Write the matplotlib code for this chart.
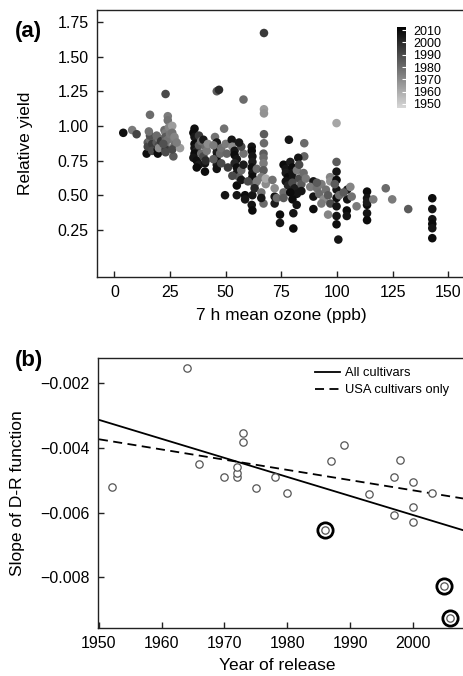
import numpy as np
import matplotlib
matplotlib.use('Agg')
import matplotlib.pyplot as plt
from matplotlib.colors import LinearSegmentedColormap
from matplotlib.ticker import FuncFormatter

plt.rcParams['font.family'] = ['Liberation Sans', 'DejaVu Sans']

# (a) relative yield vs 7 h mean ozone, shaded by cultivar release year
ozone = [
    4, 8, 10,
    16, 14.5, 15, 15, 16, 17, 17, 16, 15.5,
    19.5, 19.5, 19, 20, 20, 19, 20, 21,
    23, 24, 24, 22.5, 23, 23, 23, 23, 23, 23, 24.5, 24, 22, 25,
    26, 26.5, 26, 27, 27, 26, 27, 29.5, 28,
    36, 35.5, 36, 37, 36, 36, 37, 36, 35.5, 37, 38, 38, 38, 39, 39, 37,
    40.7, 40.7, 40, 41, 40, 41.5, 42, 41,
    46, 47, 45.2, 46, 46, 46, 46, 46, 46, 46, 44.5, 47.5, 44.5, 48, 48,
    49.3, 49.7, 50, 50.5, 51,
    52.7, 53, 54, 54, 55, 54, 55, 55, 56, 55, 55, 58.7, 58.7, 57, 57, 58, 58, 58, 57, 56, 53,
    61.7, 61.7, 62, 62, 61.7, 62, 62, 61.7, 62, 62, 63, 64, 64, 63, 60,
    67.2, 67.2, 67.2, 67.2, 67.2, 67, 67, 67, 67, 67, 66, 68, 66, 66, 68,
    71, 72, 72, 72, 74.4, 74.4, 73,
    78.4, 85.3, 85.3, 82.6, 76, 77, 77, 78, 77, 78, 79, 80, 80, 80, 80, 81, 82, 80, 80.4, 80.4,
    81.9, 83, 84, 82, 83, 85, 76, 76, 79, 86, 84,
    89.4, 89.4, 89.4, 88, 91, 92, 93, 94, 95, 96, 96.9, 97, 93, 91, 96, 97,
    99.8, 99.8, 99.8, 99.8, 99.8, 99.8, 99.8, 99.8, 99.8, 100.6, 99, 101,
    104.6, 104.6, 104.4, 104.4, 106.6, 108.8, 103, 106,
    113.5, 113.5, 113.5, 113.5, 113.5, 113.5,
    116.3, 121.9, 124.8, 132,
    142.8, 142.8, 142.8, 142.8, 142.8, 142.8,
]
rel_yield = [
    0.95, 0.97, 0.94,
    1.08, 0.80, 0.88, 0.85, 0.90, 0.87, 0.82, 0.93, 0.96,
    0.83, 0.80, 0.88, 0.91, 0.86, 0.93, 0.84, 0.89,
    1.23, 1.07, 1.04, 0.97, 0.95, 0.92, 0.89, 0.86, 0.83, 0.81, 0.99, 0.90, 0.87, 0.94,
    1.00, 0.78, 0.95, 0.90, 0.86, 0.83, 0.92, 0.84, 0.88,
    0.98, 0.95, 0.92, 0.90, 0.87, 0.84, 0.82, 0.80, 0.77, 0.75, 0.72, 0.86, 0.93, 0.80, 0.89, 0.70,
    0.73, 0.67, 0.90, 0.85, 0.78, 0.82, 0.87, 0.75,
    1.25, 1.26, 0.92, 0.88, 0.84, 0.81, 0.78, 0.75, 0.72, 0.69, 0.86, 0.80, 0.76, 0.84, 0.73,
    0.98, 0.50, 0.87, 0.80, 0.70,
    0.90, 0.85, 0.82, 0.79, 0.76, 0.73, 0.70, 0.66, 0.63, 0.57, 0.50, 0.50, 0.47, 0.61, 0.68, 0.72, 1.19, 0.80, 0.85, 0.88, 0.64,
    0.85, 0.82, 0.78, 0.74, 0.70, 0.66, 0.63, 0.43, 0.39, 0.50, 0.58, 0.60, 0.69, 0.55, 0.60,
    1.67, 1.12, 1.09, 0.94, 0.875, 0.80, 0.77, 0.73, 0.68, 0.44, 0.63, 0.58, 0.52, 0.48, 0.62,
    0.61, 0.49, 0.44, 0.55, 0.36, 0.30, 0.48,
    0.90, 0.875, 0.78, 0.77, 0.72, 0.69, 0.66, 0.63, 0.60, 0.57, 0.74, 0.70, 0.66, 0.62, 0.59, 0.55, 0.51, 0.47, 0.37, 0.26,
    0.43, 0.62, 0.58, 0.68, 0.72, 0.66, 0.52, 0.48, 0.52, 0.62, 0.53,
    0.60, 0.49, 0.40, 0.56, 0.55, 0.51, 0.58, 0.47, 0.54, 0.36, 0.63, 0.60, 0.44, 0.59, 0.50, 0.44,
    1.02, 0.74, 0.67, 0.61, 0.54, 0.48, 0.42, 0.35, 0.29, 0.18, 0.58, 0.50,
    0.54, 0.47, 0.39, 0.35, 0.49, 0.42, 0.52, 0.56,
    0.526, 0.478, 0.43, 0.37, 0.32, 0.45,
    0.47, 0.55, 0.47, 0.40,
    0.478, 0.40, 0.327, 0.293, 0.262, 0.19,
]
release_year = [
    2008, 1975, 1992,
    1980, 2008, 1985, 1992, 1980, 1995, 1990, 1988, 1978,
    2009, 2009, 1985, 1975, 1990, 1980, 1970, 1995,
    1990, 1975, 1978, 1980, 1975, 1985, 1980, 1975, 1995, 1990, 1972, 1978, 1988, 1976,
    1965, 1985, 1978, 1975, 1980, 1990, 1972, 1965, 1974,
    2008, 2009, 2006, 2004, 2009, 2006, 2001, 2009, 2006, 2008, 2004, 1985, 1995, 1980, 1978, 2009,
    2006, 2009, 2005, 1980, 1990, 1975, 1970, 2000,
    1985, 2000, 1978, 2006, 2009, 2004, 2006, 2009, 2004, 2007, 1975, 1980, 1985, 1978, 1990,
    1978, 2006, 1975, 1982, 1995,
    2006, 1970, 2006, 2009, 2006, 2001, 2008, 2006, 1985, 2009, 2006, 2009, 2006, 2006, 1980, 2004, 1980, 1978, 1990, 2005, 1990,
    2006, 2009, 2006, 2004, 2008, 2006, 2009, 2006, 2009, 2006, 1985, 1975, 1980, 2001, 1990,
    1995, 1965, 1968, 1985, 1980, 1985, 1980, 1975, 1985, 1980, 1975, 1970, 1978, 2006, 1960,
    1978, 2006, 2004, 1970, 2009, 2006, 1980,
    2006, 1980, 1982, 2006, 2009, 2006, 2004, 2009, 2006, 2001, 2004, 2009, 2006, 2006, 1990, 2004, 2006, 2009, 2006, 2009,
    2006, 1990, 1985, 1975, 1990, 1980, 1980, 1985, 2009, 1975, 2006,
    2006, 2006, 2009, 1975, 1978, 1980, 1975, 1970, 1978, 1972, 1972, 1968, 1975, 1985, 1985, 1990,
    1962, 1985, 2006, 2009, 2006, 2009, 2006, 2006, 2008, 2006, 1985, 1980,
    2004, 2006, 2009, 2006, 1978, 1975, 1985, 1972,
    2009, 2006, 2009, 2006, 2009, 2004,
    1975, 1980, 1975, 1985,
    2009, 2006, 2006, 2009, 2006, 2009,
]
year_ticks = [1950, 1960, 1970, 1980, 1990, 2000, 2010]

# (b) slope of dose-response function vs year of cultivar release
cultivar_year = [1952, 1964, 1966, 1970, 1972, 1972, 1972, 1973, 1973, 1975, 1978, 1980,
                 1987, 1989, 1993, 1997, 1998, 2000, 2003, 2000, 1997, 2000,
                 1986, 2005, 2006]
dr_slope = [-0.00520, -0.00154, -0.00450, -0.00489, -0.00489, -0.00478, -0.00460,
            -0.00353, -0.00381, -0.00525, -0.00489, -0.00538,
            -0.00440, -0.00391, -0.00543, -0.00489, -0.00437, -0.00504, -0.00538,
            -0.00582, -0.00607, -0.00630,
            -0.00654, -0.00827, -0.00926]
outlier = [False] * 22 + [True, True, True]

fit_years = [1950, 2008]
fit_all = [-0.00313, -0.00654]
fit_usa = [-0.00373, -0.00556]

W, H = 463, 676


def box(l, t, r, b):
    return [l / W, 1 - b / H, (r - l) / W, (b - t) / H]


def style_axes(ax):
    for side in ['left', 'bottom', 'top']:
        ax.spines[side].set_linewidth(1.0)
        ax.spines[side].set_color('#222222')
    ax.spines['right'].set_visible(False)
    ax.tick_params(direction='in', length=4.5, width=1.0, labelsize=11.5, pad=6,
                   color='#222222', top=False, right=False)


grey_cmap = LinearSegmentedColormap.from_list('year_greys', ['#d8d8d8', '#000000'])

fig = plt.figure(figsize=(4.63, 6.76), dpi=100)

# ---- panel (a)
ax1 = fig.add_axes(box(97, 10, 463, 277))
sc = ax1.scatter(ozone, rel_yield, c=release_year, cmap=grey_cmap, vmin=1946.5, vmax=2012.7,
                 s=38, linewidths=0)
ax1.set_xlim(-7.8, 156.6)
ax1.set_ylim(-0.09, 1.836)
ax1.set_xticks([0, 25, 50, 75, 100, 125, 150])
ax1.set_yticks([0.25, 0.5, 0.75, 1.0, 1.25, 1.5, 1.75])
ax1.yaxis.set_major_formatter(FuncFormatter(lambda v, p: f'{v:.2f}'))
style_axes(ax1)
ax1.set_xlabel('7 h mean ozone (ppb)', fontsize=12.5)
ax1.set_ylabel('Relative yield', fontsize=12.5)
ax1.xaxis.set_label_coords(0.503, -0.116)
ax1.yaxis.set_label_coords(-0.175, 0.5)

cax = fig.add_axes(box(396.7, 26.7, 406, 108.3))
cb = fig.colorbar(sc, cax=cax, ticks=year_ticks)
cb.outline.set_visible(False)
cax.tick_params(direction='in', color='white', length=3, width=0.8, labelsize=9, pad=5)

# ---- panel (b)
ax2 = fig.add_axes(box(97.7, 358, 463, 628))
ax2.plot(fit_years, fit_all, '-', color='black', lw=1.3, label='All cultivars')
ax2.plot(fit_years, fit_usa, '--', color='black', lw=1.3, dashes=(5, 3), label='USA cultivars only')
ax2.plot(cultivar_year, dr_slope, 'o', ms=5.3, mfc='white', mec='#555555', mew=0.9)
out_x = [x for x, o in zip(cultivar_year, outlier) if o]
out_y = [y for y, o in zip(dr_slope, outlier) if o]
ax2.plot(out_x, out_y, 'o', ms=11, mfc='none', mec='black', mew=2.0)
ax2.set_xlim(1949.8, 2008)
ax2.set_ylim(-0.009564, -0.001218)
ax2.set_xticks([1950, 1960, 1970, 1980, 1990, 2000])
ax2.set_yticks([-0.008, -0.006, -0.004, -0.002])
ax2.yaxis.set_major_formatter(FuncFormatter(lambda v, p: f'{v:.3f}'.replace('-', '\u2212')))
style_axes(ax2)
ax2.set_xlabel('Year of release', fontsize=12.5)
ax2.set_ylabel('Slope of D-R function', fontsize=12.5)
ax2.xaxis.set_label_coords(0.492, -0.110)
ax2.yaxis.set_label_coords(-0.199, 0.5)
ax2.legend(loc='upper left', bbox_to_anchor=(0.595, 0.965), frameon=False, fontsize=9.3,
           handlelength=1.95, handletextpad=0.4, labelspacing=0.35, borderpad=0, borderaxespad=0)

fig.text(15 / W, 1 - 32 / H, '(a)', fontsize=16, fontweight='bold', ha='left', va='center')
fig.text(15 / W, 1 - 360 / H, '(b)', fontsize=16, fontweight='bold', ha='left', va='center')

fig.savefig('out.png', dpi=100)
